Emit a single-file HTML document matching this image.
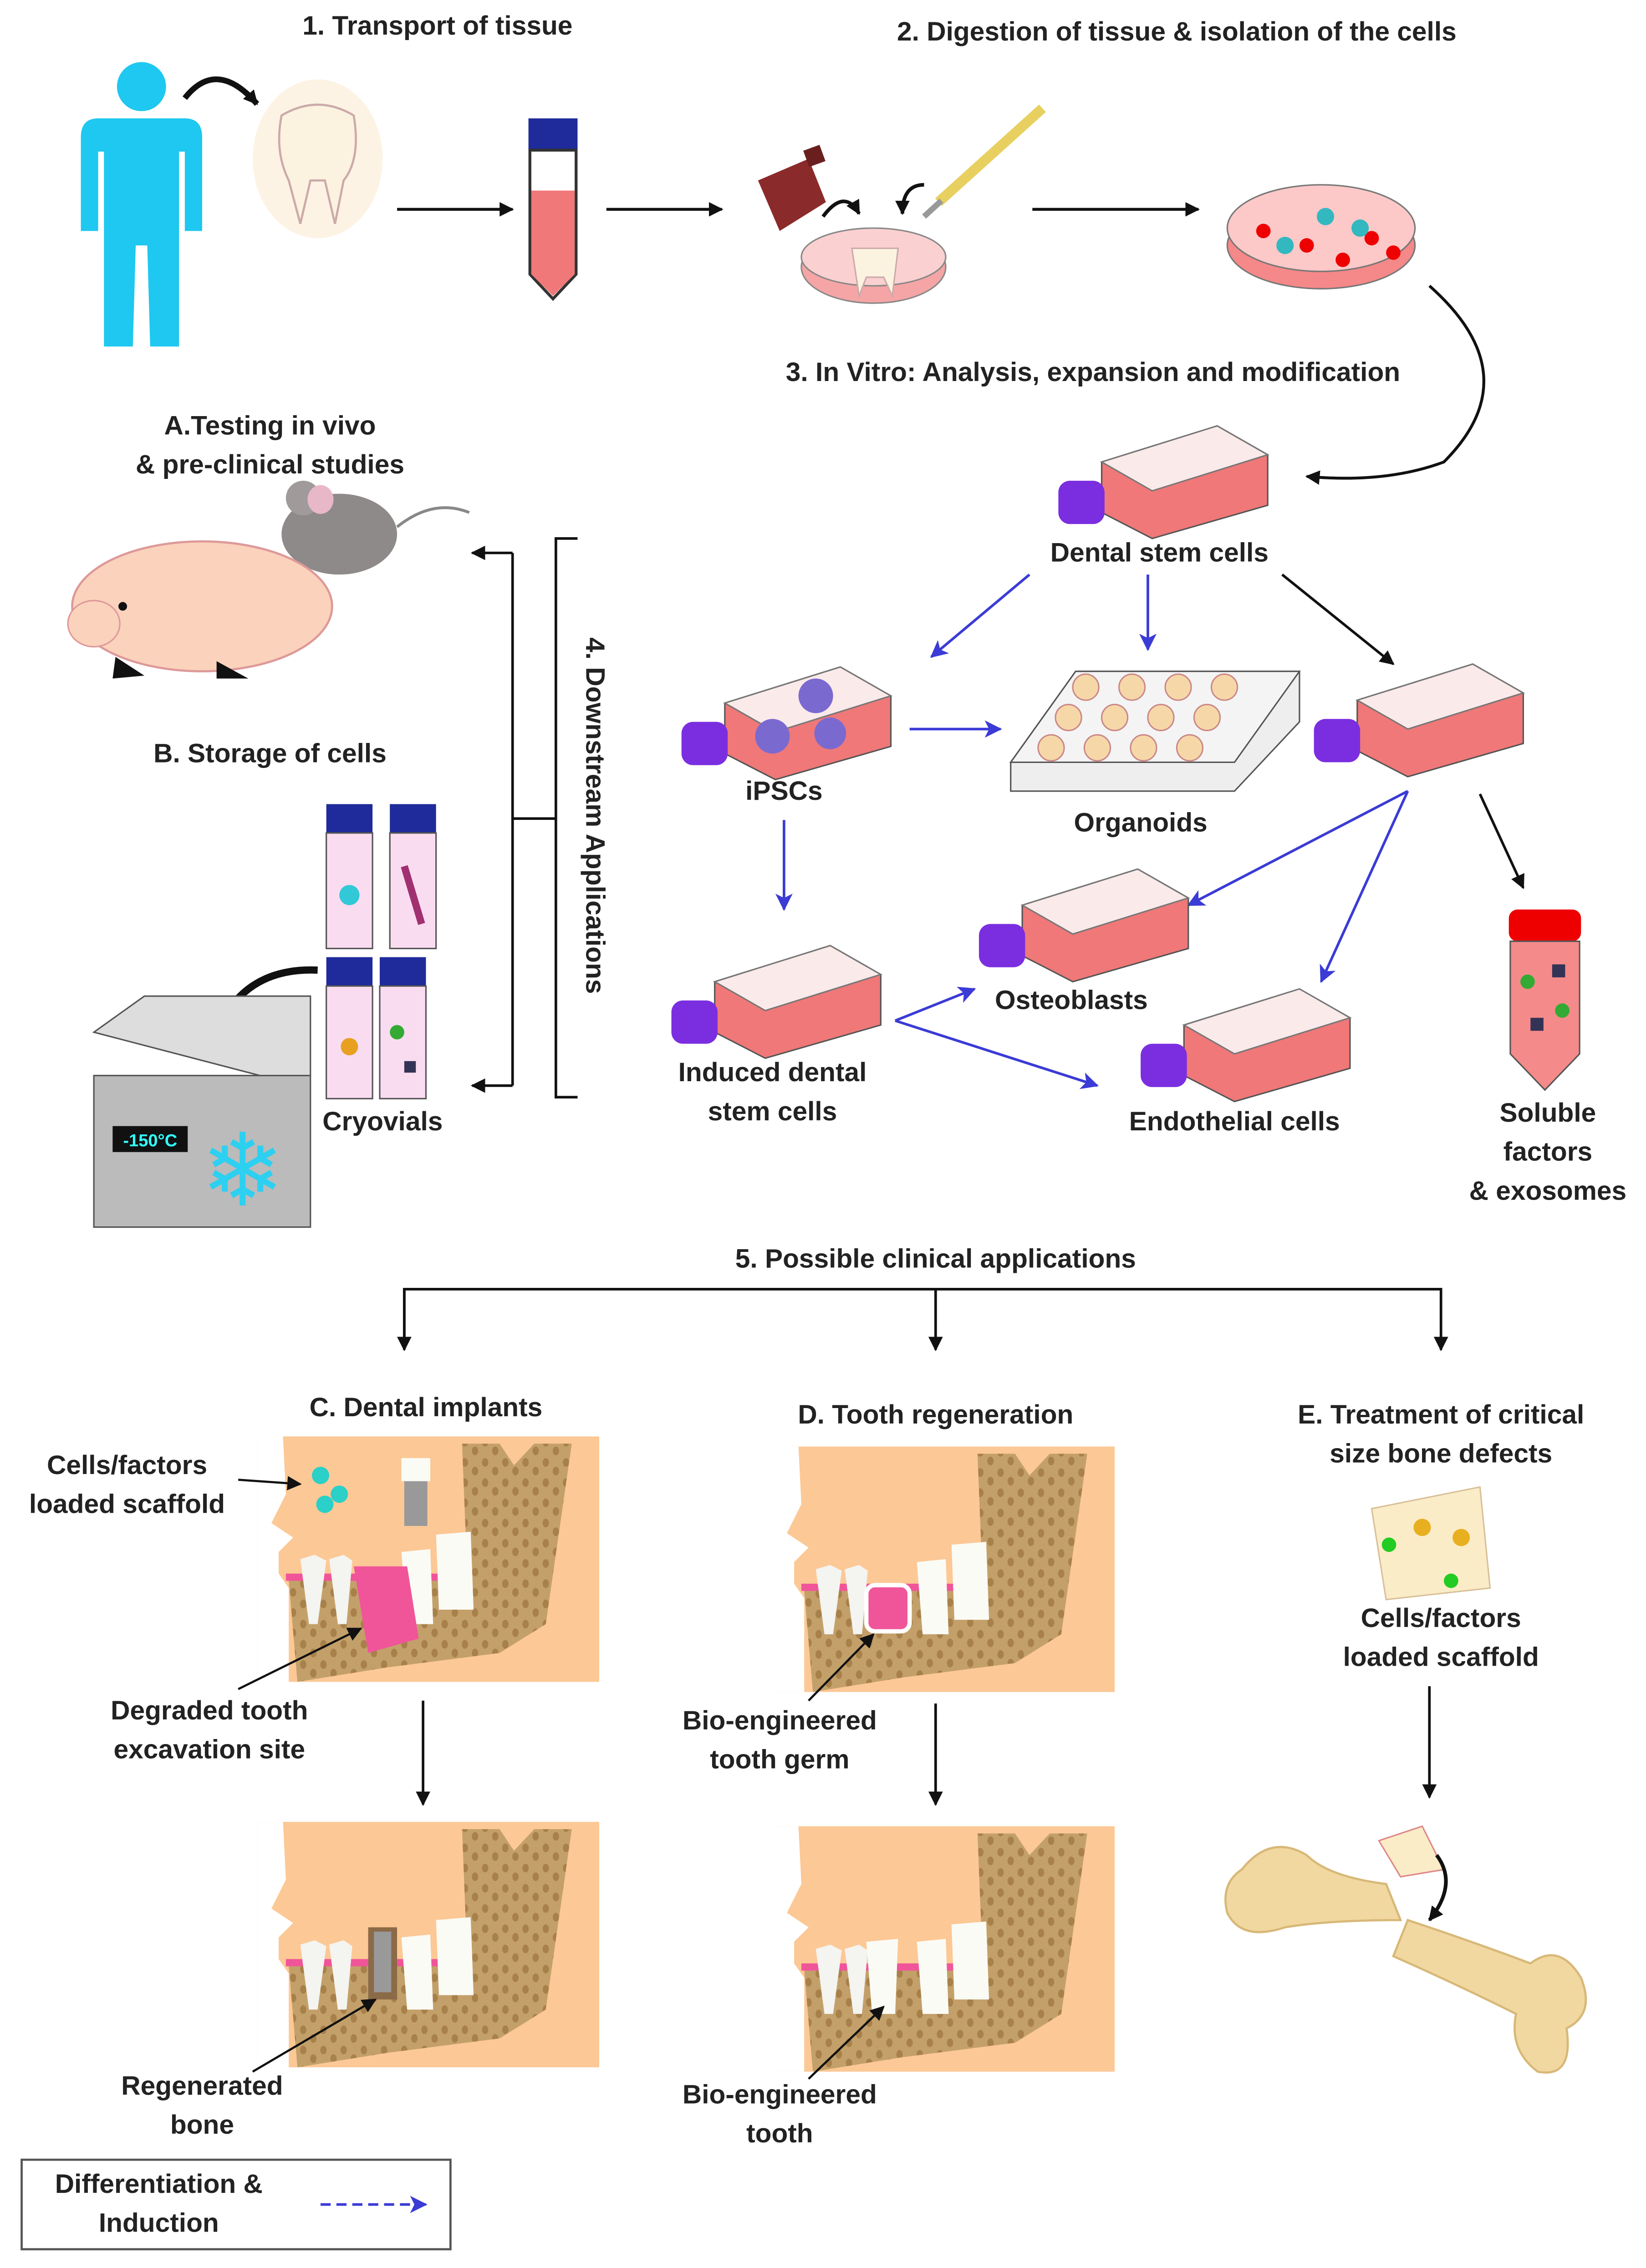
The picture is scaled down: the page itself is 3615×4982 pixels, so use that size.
<!DOCTYPE html>
<html><head><meta charset="utf-8"><style>
html,body{margin:0;padding:0;background:#fff;}
svg{display:block;}
text{font-family:"Liberation Sans",sans-serif;font-weight:bold;fill:#222;font-size:18.5px;text-anchor:middle;}
</style></head><body>
<svg width="3615" height="4982" viewBox="0 0 1140 1571" preserveAspectRatio="none" xmlns="http://www.w3.org/2000/svg">
<defs>
<marker id="ab" markerWidth="10" markerHeight="10" refX="9" refY="5" orient="auto" markerUnits="userSpaceOnUse"><path d="M0,0 L10,5 L0,10 Z" fill="#111"/></marker>
<marker id="au" markerWidth="12" markerHeight="12" refX="11" refY="6" orient="auto" markerUnits="userSpaceOnUse"><path d="M0,0 L12,6 L0,12 L3,6 Z" fill="#3b3bd6"/></marker>
<pattern id="dots" width="14" height="14" patternUnits="userSpaceOnUse"><rect width="14" height="14" fill="#c3a06a"/><ellipse cx="4" cy="4" rx="2.2" ry="3" fill="#a8804a"/><ellipse cx="11" cy="10" rx="2.2" ry="3" fill="#a8804a"/></pattern>
<g id="flask">
<polygon points="30,25 110,0 145,20 145,55 65,78 30,60" fill="#f07878" stroke="#555" stroke-width="1"/>
<polygon points="30,25 110,0 145,20 65,45" fill="#fbeaea" stroke="#777" stroke-width="1"/>
<rect x="0" y="38" width="32" height="30" rx="8" fill="#7b2ee0"/>
</g>
<g id="jaw">
<rect x="0" y="0" width="237" height="170" fill="#fcc895"/>
<path d="M0,0 L18,0 L20,40 L10,60 L25,70 L15,80 L15,95 L22,105 L22,170 L0,170Z" fill="#fff"/>
<path d="M22,100 L130,96 L145,80 L142,5 L168,5 L178,20 L192,5 L218,5 L200,130 L168,150 L90,160 L28,170 Z" fill="url(#dots)"/>
<path d="M20,100 L140,100 L145,85 L135,95 L20,95Z" fill="#f0559a"/>
<path d="M30,85 L40,82 L48,86 L42,130 L36,130Z" fill="#f4f4f0"/>
<path d="M50,85 L60,82 L66,86 L62,130 L56,130Z" fill="#f4f4f0"/>
<path d="M100,80 L120,78 L122,130 L104,130Z" fill="#fbfbf5"/>
<path d="M124,68 L148,66 L150,120 L126,120Z" fill="#fbfbf5"/>
</g>
</defs>

<!-- titles -->
<text x="303" y="24">1. Transport of tissue</text>
<text x="815" y="28">2. Digestion of tissue &amp;  isolation of the cells</text>
<text x="757" y="264">3. In Vitro: Analysis, expansion and modification</text>

<!-- human -->
<g fill="#1ec8f0">
<circle cx="98" cy="60" r="17"/>
<path d="M68,82 L128,82 Q140,82 140,95 L140,160 L128,160 L128,105 L124,105 L124,240 L104,240 L102,170 L94,170 L92,240 L72,240 L72,105 L68,105 L68,160 L56,160 L56,95 Q56,82 68,82Z"/>
</g>
<path d="M128,68 Q150,40 178,72" fill="none" stroke="#111" stroke-width="4" marker-end="url(#ab)"/>
<ellipse cx="220" cy="110" rx="45" ry="55" fill="#fdf3e4"/>
<path d="M195,80 Q220,65 245,80 Q250,110 238,125 L232,155 L225,125 L215,125 L208,155 L200,125 Q190,105 195,80Z" fill="#fbf3e0" stroke="#caa" stroke-width="1.5"/>
<line x1="275" y1="145" x2="355" y2="145" stroke="#111" stroke-width="2" marker-end="url(#ab)"/>
<rect x="366" y="82" width="34" height="22" fill="#1f2b9a"/>
<path d="M367,104 L399,104 L399,190 L383,207 L367,190Z" fill="#fff" stroke="#333" stroke-width="2"/>
<path d="M368,132 L398,132 L398,190 L383,205 L368,190Z" fill="#f07878"/>
<line x1="420" y1="145" x2="500" y2="145" stroke="#111" stroke-width="2" marker-end="url(#ab)"/>
<!-- bottle & scalpel -->
<path d="M525,125 L560,110 L572,140 L540,160Z" fill="#8b2a2a"/>
<rect x="558" y="102" width="12" height="12" fill="#6a1f1f" transform="rotate(-20 564 108)"/>
<line x1="650" y1="140" x2="722" y2="75" stroke="#e8d060" stroke-width="7"/>
<line x1="640" y1="150" x2="652" y2="139" stroke="#999" stroke-width="4"/>
<path d="M570,150 Q585,130 595,148" fill="none" stroke="#111" stroke-width="2.5" marker-end="url(#ab)"/>
<path d="M640,128 Q625,128 625,148" fill="none" stroke="#111" stroke-width="2.5" marker-end="url(#ab)"/>
<ellipse cx="605" cy="185" rx="50" ry="25" fill="#f5a5a5" stroke="#888"/>
<ellipse cx="605" cy="178" rx="50" ry="20" fill="#fbd0d0" stroke="#888"/>
<path d="M590,172 L622,172 L618,205 L612,192 L600,192 L595,205Z" fill="#fbf3e0" stroke="#caa"/>
<line x1="715" y1="145" x2="830" y2="145" stroke="#111" stroke-width="2" marker-end="url(#ab)"/>
<ellipse cx="915" cy="170" rx="65" ry="30" fill="#f58888" stroke="#777"/>
<ellipse cx="915" cy="158" rx="65" ry="30" fill="#fcc8c8" stroke="#777"/>
<g fill="#e00"><circle cx="875" cy="160" r="5"/><circle cx="905" cy="170" r="5"/><circle cx="930" cy="180" r="5"/><circle cx="950" cy="165" r="5"/><circle cx="965" cy="175" r="5"/></g>
<g fill="#33b8c0"><circle cx="890" cy="170" r="6"/><circle cx="918" cy="150" r="6"/><circle cx="942" cy="158" r="6"/></g>
<path d="M990,198 Q1060,260 1000,320 Q960,335 905,330" fill="none" stroke="#111" stroke-width="2" marker-end="url(#ab)"/>

<!-- flasks -->
<use href="#flask" x="733" y="295"/>
<text x="803" y="389">Dental stem cells</text>
<line x1="713" y1="398" x2="645" y2="455" stroke="#3b3bd6" stroke-width="1.8" marker-end="url(#au)"/>
<line x1="795" y1="398" x2="795" y2="450" stroke="#3b3bd6" stroke-width="1.8" marker-end="url(#au)"/>
<line x1="888" y1="398" x2="965" y2="460" stroke="#111" stroke-width="1.8" marker-end="url(#ab)"/>
<use href="#flask" x="472" y="462"/>
<g fill="#7a6ad0"><circle cx="535" cy="510" r="12"/><circle cx="565" cy="482" r="12"/><circle cx="575" cy="508" r="11"/></g>
<text x="543" y="554">iPSCs</text>
<line x1="630" y1="505" x2="693" y2="505" stroke="#3b3bd6" stroke-width="1.8" marker-end="url(#au)"/>
<polygon points="700,528 745,465 900,465 900,500 855,548 700,548" fill="#eee" stroke="#555"/>
<polygon points="700,528 745,465 900,465 855,528" fill="#f4f4f4" stroke="#555"/>
<g fill="#f6d8a8" stroke="#c88" stroke-width="1">
<circle cx="752" cy="476" r="9"/><circle cx="784" cy="476" r="9"/><circle cx="816" cy="476" r="9"/><circle cx="848" cy="476" r="9"/>
<circle cx="740" cy="497" r="9"/><circle cx="772" cy="497" r="9"/><circle cx="804" cy="497" r="9"/><circle cx="836" cy="497" r="9"/>
<circle cx="728" cy="518" r="9"/><circle cx="760" cy="518" r="9"/><circle cx="792" cy="518" r="9"/><circle cx="824" cy="518" r="9"/>
</g>
<text x="790" y="576">Organoids</text>
<use href="#flask" x="910" y="460"/>
<line x1="543" y1="568" x2="543" y2="630" stroke="#3b3bd6" stroke-width="1.8" marker-end="url(#au)"/>
<line x1="975" y1="548" x2="823" y2="627" stroke="#3b3bd6" stroke-width="1.8" marker-end="url(#au)"/>
<line x1="975" y1="548" x2="915" y2="680" stroke="#3b3bd6" stroke-width="1.8" marker-end="url(#au)"/>
<line x1="1025" y1="550" x2="1055" y2="615" stroke="#111" stroke-width="1.8" marker-end="url(#ab)"/>
<use href="#flask" x="678" y="602"/>
<text x="742" y="699">Osteoblasts</text>
<use href="#flask" x="465" y="655"/>
<text x="535" y="749">Induced dental</text>
<text x="535" y="776">stem cells</text>
<line x1="620" y1="707" x2="675" y2="685" stroke="#3b3bd6" stroke-width="1.8" marker-end="url(#au)"/>
<line x1="620" y1="707" x2="760" y2="752" stroke="#3b3bd6" stroke-width="1.8" marker-end="url(#au)"/>
<use href="#flask" x="790" y="685"/>
<text x="855" y="783">Endothelial cells</text>
<rect x="1045" y="630" width="50" height="22" rx="6" fill="#e00"/>
<path d="M1046,652 L1094,652 L1094,730 L1070,755 L1046,730Z" fill="#f58a8a" stroke="#555"/>
<g fill="#3a3"><circle cx="1058" cy="680" r="5"/><circle cx="1082" cy="700" r="5"/></g>
<g fill="#335"><rect x="1075" y="668" width="9" height="9"/><rect x="1060" y="705" width="9" height="9"/></g>
<text x="1072" y="777">Soluble</text>
<text x="1072" y="804">factors</text>
<text x="1072" y="831">&amp; exosomes</text>

<!-- left side -->
<text x="187" y="301">A.Testing in vivo</text>
<text x="187" y="328">&amp; pre-clinical studies</text>
<ellipse cx="235" cy="370" rx="40" ry="28" fill="#8f8a8a"/>
<circle cx="210" cy="345" r="12" fill="#a09a9a"/>
<ellipse cx="222" cy="346" rx="9" ry="10" fill="#e8b8c8"/>
<path d="M275,365 Q300,345 325,355" fill="none" stroke="#888" stroke-width="2"/>
<ellipse cx="140" cy="420" rx="90" ry="45" fill="#fbd2bc" stroke="#d99" stroke-width="1.5"/>
<ellipse cx="65" cy="432" rx="18" ry="16" fill="#fbd2bc" stroke="#d99"/>
<path d="M80,455 L100,468 L78,470Z" fill="#111"/>
<path d="M150,458 L172,470 L150,470Z" fill="#111"/>
<circle cx="85" cy="420" r="3" fill="#111"/>
<text x="187" y="528">B. Storage of cells</text>
<g>
<rect x="226" y="557" width="32" height="20" fill="#1f2b9a"/><rect x="226" y="577" width="32" height="80" fill="#fadcf0" stroke="#555"/>
<rect x="270" y="557" width="32" height="20" fill="#1f2b9a"/><rect x="270" y="577" width="32" height="80" fill="#fadcf0" stroke="#555"/>
<rect x="226" y="663" width="32" height="20" fill="#1f2b9a"/><rect x="226" y="683" width="32" height="78" fill="#fadcf0" stroke="#555"/>
<rect x="263" y="663" width="32" height="20" fill="#1f2b9a"/><rect x="263" y="683" width="32" height="78" fill="#fadcf0" stroke="#555"/>
<circle cx="242" cy="620" r="7" fill="#33c8d8"/><path d="M280,600 L292,640" stroke="#a03070" stroke-width="5"/>
<circle cx="242" cy="725" r="6" fill="#e8a020"/><circle cx="275" cy="715" r="5" fill="#3a3"/><rect x="280" y="735" width="8" height="8" fill="#335"/>
</g>
<text x="265" y="783">Cryovials</text>
<path d="M220,672 Q175,670 155,705" fill="none" stroke="#111" stroke-width="5" marker-end="url(#ab)"/>
<polygon points="65,715 100,690 215,690 215,745 180,745" fill="#ddd" stroke="#555"/>
<rect x="65" y="745" width="150" height="105" fill="#bbb" stroke="#555"/>
<rect x="78" y="780" width="52" height="18" fill="#111"/>
<text x="104" y="794" style="font-size:12px;fill:#3ff">-150°C</text>
<text x="168" y="835" style="font-size:70px;fill:#2dd0f0;font-weight:normal">❄</text>

<!-- bracket -->
<polyline points="400,373 385,373 385,760 400,760" fill="none" stroke="#111" stroke-width="1.8"/>
<line x1="385" y1="567" x2="355" y2="567" stroke="#111" stroke-width="1.8"/>
<line x1="355" y1="383" x2="355" y2="752" stroke="#111" stroke-width="1.8"/>
<line x1="355" y1="383" x2="327" y2="383" stroke="#111" stroke-width="1.8" marker-end="url(#ab)"/>
<line x1="355" y1="752" x2="327" y2="752" stroke="#111" stroke-width="1.8" marker-end="url(#ab)"/>
<text x="0" y="0" transform="translate(406,565) rotate(90)">4. Downstream Applications</text>

<!-- section 5 -->
<text x="648" y="878">5. Possible clinical applications</text>
<polyline points="280,935 280,893 998,893 998,935" fill="none" stroke="#111" stroke-width="1.8" marker-end="url(#ab)"/>
<line x1="280" y1="893" x2="280" y2="935" stroke="#111" stroke-width="1.8" marker-end="url(#ab)"/>
<line x1="648" y1="893" x2="648" y2="935" stroke="#111" stroke-width="1.8" marker-end="url(#ab)"/>

<text x="295" y="981">C. Dental implants</text>
<use href="#jaw" x="178" y="995"/>
<path d="M245,1085 L282,1085 L290,1135 L255,1145Z" fill="#f0559a"/>
<rect x="280" y="1025" width="16" height="32" fill="#999"/>
<rect x="278" y="1010" width="20" height="16" fill="#fbfbf5"/>
<g fill="#2bd0c8"><circle cx="222" cy="1022" r="6"/><circle cx="235" cy="1035" r="6"/><circle cx="225" cy="1042" r="6"/></g>
<line x1="165" y1="1025" x2="208" y2="1028" stroke="#111" stroke-width="1.5" marker-end="url(#ab)"/>
<text x="88" y="1021">Cells/factors</text>
<text x="88" y="1048">loaded scaffold</text>
<line x1="165" y1="1170" x2="250" y2="1128" stroke="#111" stroke-width="1.5" marker-end="url(#ab)"/>
<text x="145" y="1191">Degraded tooth</text>
<text x="145" y="1218">excavation site</text>
<line x1="293" y1="1178" x2="293" y2="1250" stroke="#111" stroke-width="1.8" marker-end="url(#ab)"/>
<use href="#jaw" x="178" y="1262"/>
<rect x="255" y="1335" width="20" height="50" fill="#8b6a48"/>
<rect x="259" y="1338" width="12" height="42" fill="#999"/>
<line x1="175" y1="1435" x2="260" y2="1385" stroke="#111" stroke-width="1.5" marker-end="url(#ab)"/>
<text x="140" y="1451">Regenerated</text>
<text x="140" y="1478">bone</text>

<text x="648" y="986">D. Tooth regeneration</text>
<use href="#jaw" x="535" y="1002"/>
<rect x="600" y="1098" width="30" height="32" rx="6" fill="#f0559a" stroke="#fff" stroke-width="3"/>
<line x1="560" y1="1178" x2="605" y2="1132" stroke="#111" stroke-width="1.5" marker-end="url(#ab)"/>
<text x="540" y="1198">Bio-engineered</text>
<text x="540" y="1225">tooth germ</text>
<line x1="648" y1="1180" x2="648" y2="1250" stroke="#111" stroke-width="1.8" marker-end="url(#ab)"/>
<use href="#jaw" x="535" y="1265"/>
<path d="M600,1345 L622,1343 L620,1395 L604,1395Z" fill="#fbfbf5"/>
<line x1="560" y1="1440" x2="612" y2="1390" stroke="#111" stroke-width="1.5" marker-end="url(#ab)"/>
<text x="540" y="1457">Bio-engineered</text>
<text x="540" y="1484">tooth</text>

<text x="998" y="986">E. Treatment of critical</text>
<text x="998" y="1013">size bone defects</text>
<polygon points="950,1045 1025,1030 1032,1100 960,1108" fill="#fbecc8" stroke="#d8c098"/>
<g fill="#2c2"><circle cx="962" cy="1070" r="5"/><circle cx="1005" cy="1095" r="5"/></g>
<g fill="#e8b020"><circle cx="985" cy="1058" r="6"/><circle cx="1012" cy="1065" r="6"/></g>
<text x="998" y="1127">Cells/factors</text>
<text x="998" y="1154">loaded scaffold</text>
<line x1="990" y1="1168" x2="990" y2="1245" stroke="#111" stroke-width="1.8" marker-end="url(#ab)"/>
<g fill="#f0d8a0" stroke="#d8b878" stroke-width="1.5">
<path d="M860,1295 Q880,1270 905,1285 Q920,1300 960,1305 L970,1330 Q920,1330 890,1335 Q860,1345 850,1325 Q845,1305 860,1295Z"/>
<path d="M975,1330 Q1020,1345 1060,1360 Q1080,1345 1095,1370 Q1105,1395 1085,1405 Q1090,1440 1065,1435 Q1045,1420 1050,1395 Q1010,1375 965,1355Z"/>
</g>
<polygon points="955,1275 985,1265 1000,1295 970,1300" fill="#fbecc8" stroke="#d88"/>
<path d="M995,1285 Q1010,1305 990,1330" fill="none" stroke="#111" stroke-width="2.5" marker-end="url(#ab)"/>

<!-- legend -->
<rect x="15" y="1496" width="297" height="62" fill="#fff" stroke="#555" stroke-width="1.5"/>
<text x="110" y="1519">Differentiation &amp;</text>
<text x="110" y="1546">Induction</text>
<line x1="222" y1="1527" x2="295" y2="1527" stroke="#3b3bd6" stroke-width="1.8" stroke-dasharray="7,4" marker-end="url(#au)"/>
</svg>
</body></html>
